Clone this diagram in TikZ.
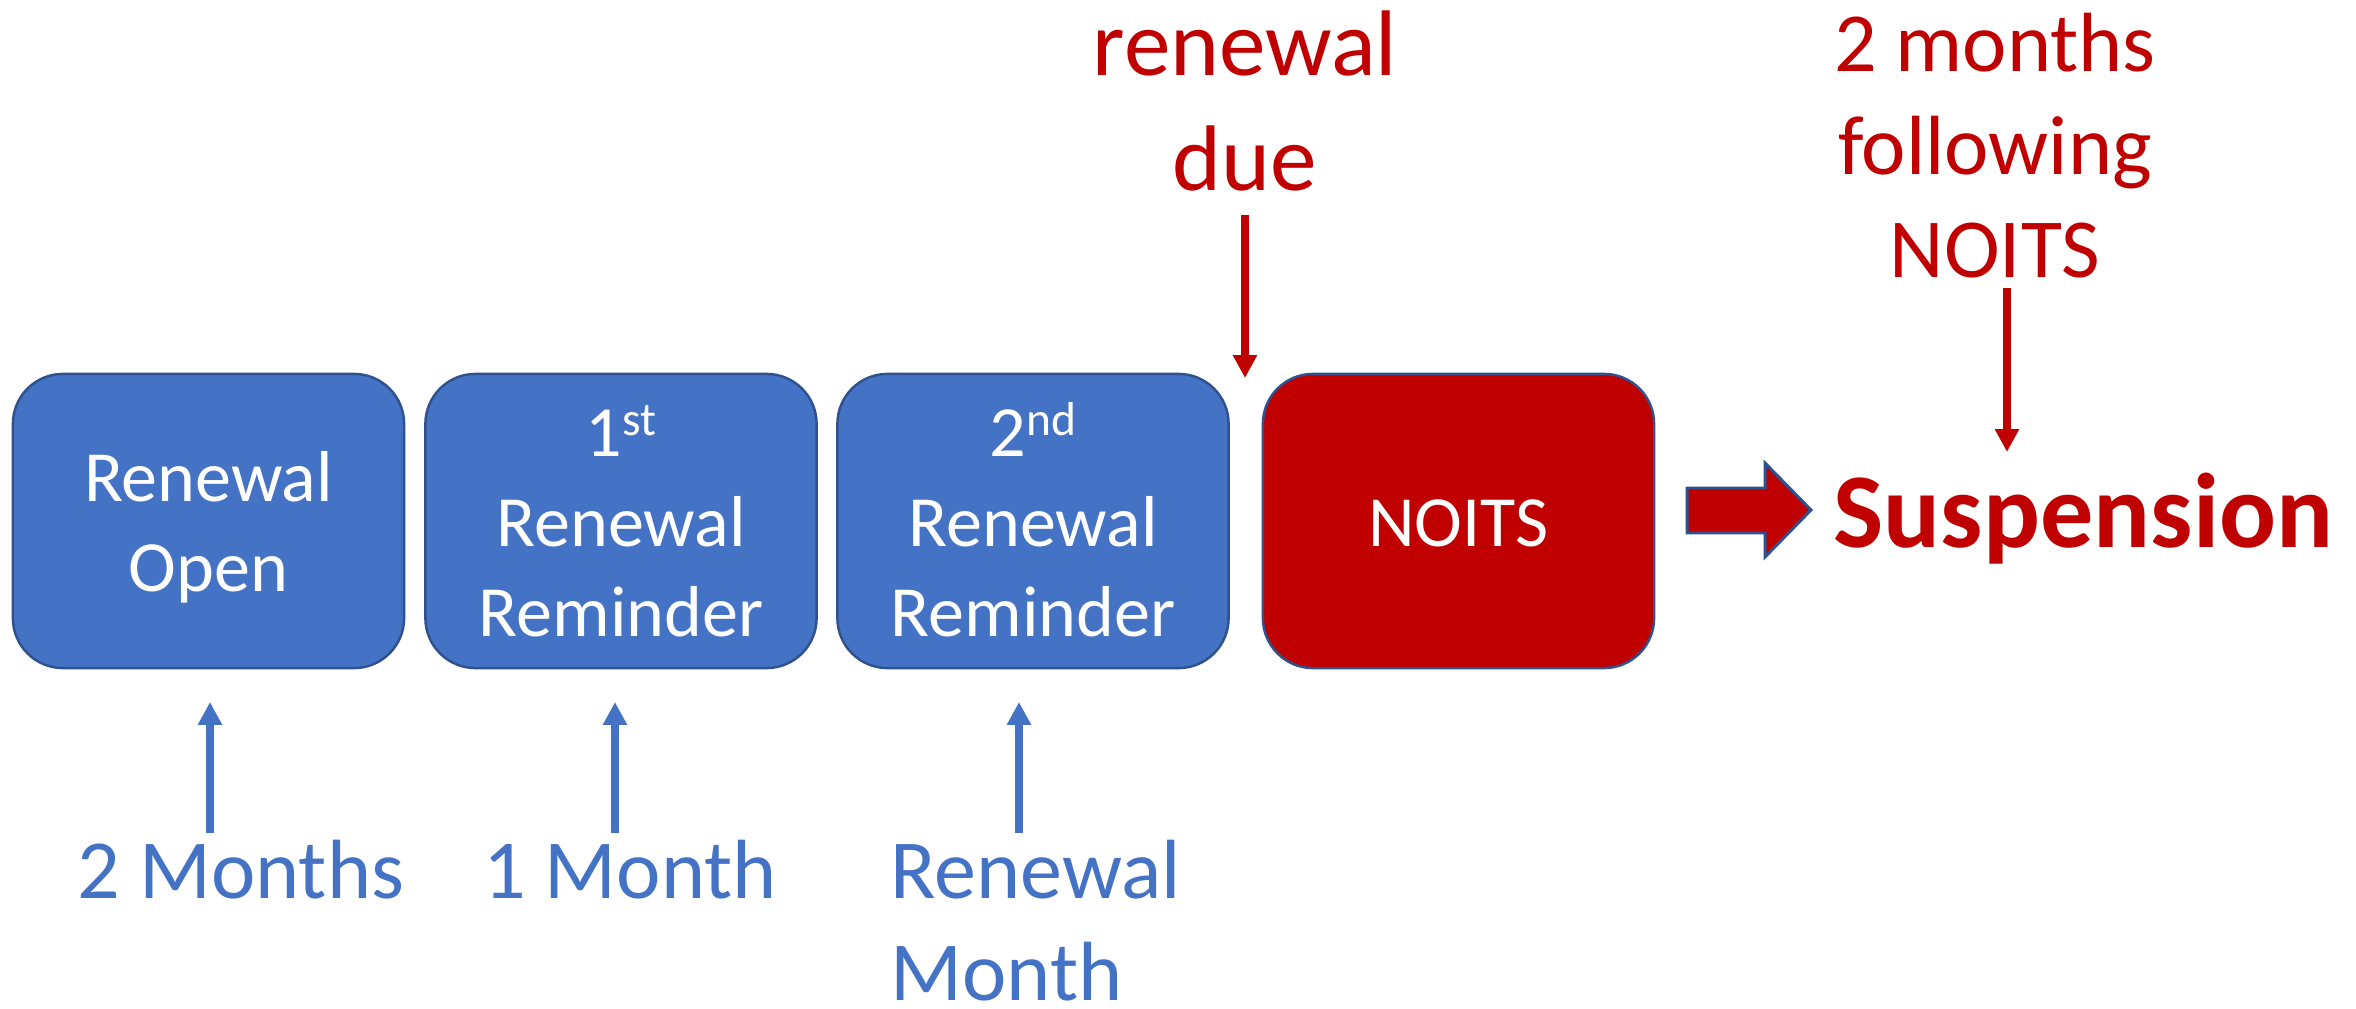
\documentclass[tikz,border=0pt]{standalone}
\usepackage{fontspec}
\setmainfont{Carlito}
\usetikzlibrary{arrows.meta}
\definecolor{bfill}{HTML}{4472C4}
\definecolor{bedge}{HTML}{2F528F}
\definecolor{rfill}{HTML}{C00000}
\newcommand\mysups[1]{\smash{\raisebox{0.3em}{\fontsize{13.5pt}{13.5pt}\selectfont #1}}}
\newcommand\lnstrut{\vrule width 0pt height 0.97em depth 0.25em\relax}
\begin{document}
\begin{tikzpicture}[x=0.01cm,y=-0.01cm,
  stage/.style={rounded corners=0.5cm, minimum width=3.91cm, minimum height=2.94cm,
    draw=bedge, line width=0.7pt, text=white, align=center, inner sep=0pt,
    font=\fontsize{20.5pt}{25.6pt}\selectfont},
  bluetxt/.style={text=bfill, inner sep=0pt, font=\fontsize{23.9pt}{29pt}\selectfont},
  redtxt/.style={text=rfill, inner sep=0pt, align=center},
  bluearrow/.style={draw=bfill, line width=2.3pt, -{Triangle[width=6.5pt,length=6.5pt]}},
  redarrow/.style={draw=rfill, line width=2.3pt, -{Triangle[width=6.5pt,length=6.5pt]}},
  blockarrow/.style={fill=rfill, draw=bedge, line width=0.85pt, line join=miter}]
\useasboundingbox (0,0) rectangle (2356,1009);

% stage boxes
\node[stage, fill=bfill] (open)   at (208.5,521) {\lnstrut Renewal\\\lnstrut Open};
\node[stage, fill=bfill] (first)  at (621,521)   {\lnstrut 1\mysups{st}\\\lnstrut Renewal\\\lnstrut Reminder};
\node[stage, fill=bfill] (second) at (1033,521)  {\lnstrut 2\mysups{nd}\\\lnstrut Renewal\\\lnstrut Reminder};
\node[stage, fill=rfill] (noits)  at (1458.5,521) {\lnstrut NOITS};

% bottom labels
\node[bluetxt, anchor=base] (twom) at (241,898) {2 Months};
\node[bluetxt, anchor=base] (onem) at (630,898) {1 Month};
\node[bluetxt, anchor=base west, align=left] (renm) at (890,1000) {Renewal\\Month};

% top labels (base anchor = last line)
\node[redtxt, anchor=base, font=\fontsize{26.5pt}{32.7pt}\selectfont] (due) at (1245,190) {renewal\\due};
\node[redtxt, anchor=base, font=\fontsize{23.9pt}{29.2pt}\selectfont] (follow) at (1995,277) {2 months\\following\\NOITS};

% suspension
\node[text=rfill, inner sep=0pt, anchor=base west, font=\fontsize{30.2pt}{36pt}\selectfont\bfseries] (susp) at (1833,547) {Suspension};

% arrow end points
\coordinate (t1) at (210,833);  \coordinate (h1) at (210,702);
\coordinate (t2) at (615,833);  \coordinate (h2) at (615,702);
\coordinate (t3) at (1019,833); \coordinate (h3) at (1019,702);
\coordinate (t4) at (1245,215); \coordinate (h4) at (1245,378);
\coordinate (t5) at (2007,288); \coordinate (h5) at (2007,452);

\draw[bluearrow] (t1) -- (h1);
\draw[bluearrow] (t2) -- (h2);
\draw[bluearrow] (t3) -- (h3);
\draw[redarrow] (t4) -- (h4);
\draw[redarrow] (t5) -- (h5);

% block arrow
\draw[blockarrow] (1687,488) -- (1765,488) -- (1765,463) -- (1811,510) -- (1765,557) -- (1765,533) -- (1687,533) -- cycle;
\end{tikzpicture}
\end{document}
